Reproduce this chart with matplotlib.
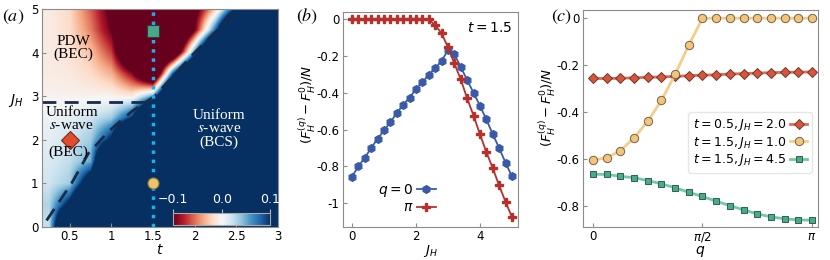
import numpy as np
import matplotlib
matplotlib.use("Agg")
from matplotlib import pyplot as plt

plt.rcParams['axes.unicode_minus'] = False
plt.rcParams['font.family'] = 'DejaVu Sans'

#panel (a): free energy difference map, rows are J_H, columns are t
t_grid = [0.25, 0.5, 0.75, 1.0, 1.25, 1.5, 1.75, 2.0, 2.25, 2.5, 2.75, 3.0]
jh_grid = [0.0, 0.5, 1.0, 1.5, 2.0, 2.5, 3.0, 3.5, 4.0, 4.5, 5.0]
dF_map = [
    [0.022, 0.3, 0.3, 0.3, 0.3, 0.3, 0.3, 0.3, 0.3, 0.3, 0.3, 0.3],
    [0.03, 0.12, 0.3, 0.3, 0.3, 0.3, 0.3, 0.3, 0.3, 0.3, 0.3, 0.3],
    [0.02, 0.035, 0.15, 0.3, 0.3, 0.3, 0.3, 0.3, 0.3, 0.3, 0.3, 0.3],
    [0.015, 0.025, 0.05, 0.3, 0.3, 0.3, 0.3, 0.3, 0.3, 0.3, 0.3, 0.3],
    [0.01, 0.02, 0.035, 0.11, 0.3, 0.3, 0.3, 0.3, 0.3, 0.3, 0.3, 0.3],
    [0.005, 0.01, 0.02, 0.035, 0.1, 0.3, 0.3, 0.3, 0.3, 0.3, 0.3, 0.3],
    [-0.004, -0.004, -0.004, -0.004, -0.01, 0.05, 0.3, 0.3, 0.3, 0.3, 0.3, 0.3],
    [-0.008, -0.01, -0.018, -0.035, -0.09, -0.2, 0.1, 0.3, 0.3, 0.3, 0.3, 0.3],
    [-0.008, -0.014, -0.03, -0.07, -0.2, -0.25, -0.18, 0.06, 0.3, 0.3, 0.3, 0.3],
    [-0.008, -0.018, -0.05, -0.1, -0.25, -0.3, -0.25, -0.1, 0.08, 0.3, 0.3, 0.3],
    [-0.008, -0.02, -0.06, -0.11, -0.25, -0.3, -0.25, -0.12, -0.03, 0.1, 0.3, 0.3],
]

#phase boundaries (dashed)
bnd_t = [0.22, 0.52, 0.72, 0.97, 1.25, 1.52, 2.0, 2.53]
bnd_jh = [0.15, 1.0, 1.68, 2.2, 2.66, 3.0, 4.0, 5.0]
hline_t = [0.17, 1.42]
hline_jh = [2.87, 2.87]

#points picked for panel (c)
pts_t = [0.5, 1.5, 1.5]
pts_jh = [2.0, 1.0, 4.5]

#panel (b): t = 1.5
jh_b = np.arange(26) * 0.2
dF_q0 = [-0.856, -0.80, -0.754, -0.70, -0.65, -0.605, -0.56, -0.51, -0.466, -0.426,
         -0.38, -0.342, -0.303, -0.265, -0.228, -0.167, -0.19, -0.26, -0.33, -0.40,
         -0.47, -0.545, -0.625, -0.70, -0.78, -0.855]
dF_pi = [0.0, 0.0, 0.0, 0.0, 0.0, 0.0, 0.0, 0.0, 0.0, 0.0,
         0.0, 0.0, 0.0, -0.032, -0.076, -0.152, -0.24, -0.327, -0.43, -0.524,
         -0.625, -0.722, -0.81, -0.904, -0.993, -1.076]

#panel (c): q scan
q_c = np.arange(17) * np.pi / 16
dF_a = [-0.257, -0.257, -0.256, -0.254, -0.252, -0.250, -0.248, -0.245, -0.243,
        -0.241, -0.238, -0.236, -0.234, -0.232, -0.231, -0.230, -0.229]
dF_b = [-0.605, -0.595, -0.565, -0.51, -0.44, -0.35, -0.24, -0.115, 0.0,
        0.0, 0.0, 0.0, 0.0, 0.0, 0.0, 0.0, 0.0]
dF_c = [-0.665, -0.666, -0.674, -0.68, -0.692, -0.706, -0.723, -0.742, -0.76,
        -0.78, -0.799, -0.817, -0.834, -0.847, -0.855, -0.86, -0.861]
labels_c = [r"$t=0.5, J_H=2.0$", r"$t=1.5, J_H=1.0$", r"$t=1.5, J_H=4.5$"]

spine_col = '#8c8c8c'
fs = 8.5

fig = plt.figure(figsize=(8.3, 2.6), dpi=100)
ax_a = fig.add_axes([0.0506, 0.127, 0.2843, 0.8385])
ax_b = fig.add_axes([0.4133, 0.127, 0.2108, 0.827])
ax_c = fig.add_axes([0.7024, 0.127, 0.2831, 0.8346])

#---- (a) ----
dt = t_grid[1] - t_grid[0]
dj = jh_grid[1] - jh_grid[0]
im = ax_a.imshow(np.array(dF_map), origin='lower', cmap='RdBu', vmin=-0.1, vmax=0.1,
                 interpolation='bilinear', interpolation_stage='data', aspect='auto',
                 extent=[t_grid[0] - dt/2, t_grid[-1] + dt/2, jh_grid[0] - dj/2, jh_grid[-1] + dj/2])
ax_a.set_xlim(0.165, 3)
ax_a.set_ylim(0, 5)
ax_a.plot(bnd_t, bnd_jh, ls=(0, (5, 3)), color='#1b2a49', lw=2)
ax_a.plot(hline_t, hline_jh, ls=(0, (5, 3)), color='#1b2a49', lw=2)
ax_a.axvline(1.5, color='#19b2ea', ls=':', lw=2.5)
ax_a.plot(pts_t[0], pts_jh[0], 'D', ms=9, mfc='#df4c2f', mec='#7a2a1a', mew=0.8)
ax_a.plot(pts_t[1], pts_jh[1], 'o', ms=8, mfc='#f2c26b', mec='#8a7040', mew=0.8)
ax_a.plot(pts_t[2], pts_jh[2], 's', ms=8, mfc='#4aa88a', mec='#2d3b3b', mew=0.8)

serif = dict(family='Liberation Serif', math_fontfamily='stix', fontsize=11, ha='center', va='center')
ax_a.text(0.54, 4.1, "PDW\n(BEC)", linespacing=1.0, **serif)
ax_a.text(0.52, 2.47, "Uniform\n" + r"$s$-wave", linespacing=1.0, **serif)
ax_a.text(0.48, 1.72, "(BEC)", **serif)
ax_a.text(2.29, 2.25, "Uniform\n" + r"$s$-wave" + "\n(BCS)", linespacing=1.0, color='white', **serif)

ax_a.set_xticks([0.5, 1, 1.5, 2, 2.5, 3])
ax_a.set_xticklabels(["0.5", "1", "1.5", "2", "2.5", "3"])
ax_a.set_yticks([0, 1, 2, 3, 4, 5])
ax_a.set_xlabel(r"$t$", fontsize=10, labelpad=0)
ax_a.set_ylabel(r"$J_H$", fontsize=10, rotation=0)
ax_a.yaxis.set_label_coords(-0.11, 0.54)

#colorbar inside panel (a)
cax = fig.add_axes([0.2087, 0.135, 0.1169, 0.046])
cb = fig.colorbar(im, cax=cax, orientation='horizontal', ticks=[-0.1, 0, 0.1])
cb.ax.xaxis.set_ticks_position('top')
cb.ax.set_xticklabels(["\u22120.1", "0.0", "0.1"], color='white', fontsize=fs + 0.5)
cb.ax.tick_params(length=3, color='#bbbbbb', pad=2)
cb.outline.set_edgecolor('#aaaaaa')

#---- (b) ----
ax_b.plot(jh_b, dF_q0, 'h-', color='#3a5aa8', ms=5.5, lw=1.3, label=r"$q=0$")
ax_b.plot(jh_b, dF_pi, 'P-', color='#b5312d', ms=5.5, lw=1.3, label=r"$\pi$")
ax_b.set_xlim(-0.28, 5.19)
ax_b.set_ylim(-1.13, 0.04)
ax_b.set_xticks([0, 2, 4])
ax_b.set_yticks([0, -0.2, -0.4, -0.6, -0.8, -1])
ax_b.set_yticklabels(["0", "-0.2", "-0.4", "-0.6", "-0.8", "-1"])
ax_b.set_xlabel(r"$J_H$", fontsize=9.5, labelpad=0)
ax_b.set_ylabel(r"$(F_H^{(q)}-F_H^0)/N$", fontsize=9.5)
ax_b.yaxis.set_label_coords(-0.145, 0.57)
ax_b.text(0.97, 0.96, r"$t=1.5$", transform=ax_b.transAxes, ha='right', va='top', fontsize=10)
ax_b.legend(loc='lower right', bbox_to_anchor=(0.6, 0.0), markerfirst=False, frameon=False,
            fontsize=10, handlelength=1.3, handletextpad=0.3, labelspacing=0.1)

#---- (c) ----
la, = ax_c.plot(q_c, dF_a, 'D-', color='#e56a52', mfc='#d9543a', mec='#6a3a30', ms=5.5, lw=2, mew=0.7)
lb, = ax_c.plot(q_c, dF_b, 'o-', color='#f6cd88', mfc='#f3c47a', mec='#6f6450', ms=6, lw=2, mew=0.7)
lc, = ax_c.plot(q_c, dF_c, 's-', color='#73c9aa', mfc='#4aab8c', mec='#2f5f50', ms=5, lw=2, mew=0.7)
ax_c.set_xlim(-0.143, np.pi + 0.086)
ax_c.set_ylim(-0.89, 0.035)
ax_c.set_xticks([0, np.pi/2, np.pi])
ax_c.set_xticklabels(["0", r"$\pi/2$", r"$\pi$"])
ax_c.set_yticks([0, -0.2, -0.4, -0.6, -0.8])
ax_c.set_yticklabels(["0", "-0.2", "-0.4", "-0.6", "-0.8"])
ax_c.set_xlabel(r"$q$", fontsize=10, labelpad=0)
ax_c.set_ylabel(r"$(F_H^{(q)}-F_H^0)/N$", fontsize=9.5)
ax_c.yaxis.set_label_coords(-0.105, 0.55)
leg = ax_c.legend([la, lb, lc], labels_c, loc='lower right', bbox_to_anchor=(1.0, 0.22),
                  markerfirst=False, fontsize=9, handlelength=1.3, handletextpad=0.3,
                  labelspacing=0.1, borderpad=0.4, framealpha=1)
leg.get_frame().set_edgecolor('#e6e6e6')

for ax in (ax_a, ax_b, ax_c):
    ax.tick_params(direction='in', length=3, labelsize=fs, color=spine_col, pad=2.5)
    for s in ax.spines.values():
        s.set_edgecolor(spine_col)

#panel labels
lab = dict(fontsize=13, math_fontfamily='stix', va='center')
fig.text(0.002, 0.935, r"$(a)$", **lab)
fig.text(0.357, 0.935, r"$(b)$", **lab)
fig.text(0.664, 0.935, r"$(c)$", **lab)

fig.savefig("out.png", dpi=100)
